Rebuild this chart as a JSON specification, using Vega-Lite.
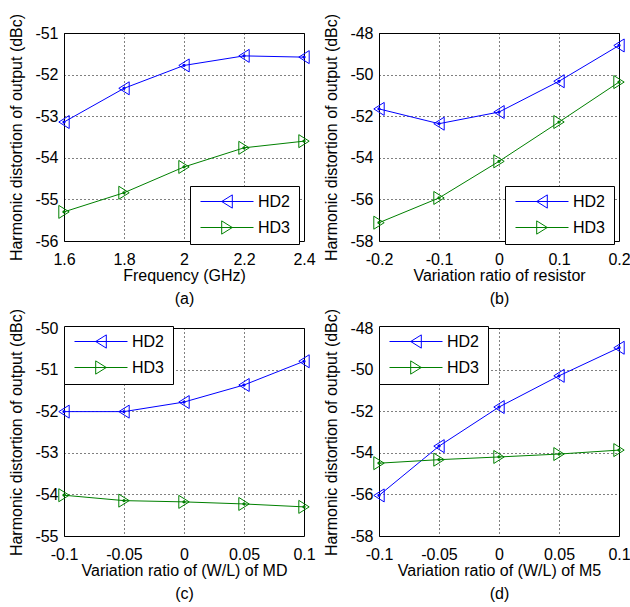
{
  "$schema": "https://vega.github.io/schema/vega-lite/v6.json",
  "background": "white",
  "padding": {"left": 8, "top": 12, "right": 5, "bottom": 5},
  "datasets": {
    "a": [
      {"x": 1.6, "y": -53.14, "series": "HD2"}, {"x": 1.8, "y": -52.33, "series": "HD2"}, {"x": 2.0, "y": -51.78, "series": "HD2"}, {"x": 2.2, "y": -51.55, "series": "HD2"}, {"x": 2.4, "y": -51.58, "series": "HD2"},
      {"x": 1.6, "y": -55.3, "series": "HD3"}, {"x": 1.8, "y": -54.84, "series": "HD3"}, {"x": 2.0, "y": -54.22, "series": "HD3"}, {"x": 2.2, "y": -53.76, "series": "HD3"}, {"x": 2.4, "y": -53.6, "series": "HD3"}
    ],
    "b": [
      {"x": -0.2, "y": -51.65, "series": "HD2"}, {"x": -0.1, "y": -52.36, "series": "HD2"}, {"x": 0, "y": -51.8, "series": "HD2"}, {"x": 0.1, "y": -50.32, "series": "HD2"}, {"x": 0.2, "y": -48.6, "series": "HD2"},
      {"x": -0.2, "y": -57.12, "series": "HD3"}, {"x": -0.1, "y": -55.93, "series": "HD3"}, {"x": 0, "y": -54.17, "series": "HD3"}, {"x": 0.1, "y": -52.28, "series": "HD3"}, {"x": 0.2, "y": -50.36, "series": "HD3"}
    ],
    "c": [
      {"x": -0.1, "y": -52.01, "series": "HD2"}, {"x": -0.05, "y": -52.01, "series": "HD2"}, {"x": 0, "y": -51.78, "series": "HD2"}, {"x": 0.05, "y": -51.37, "series": "HD2"}, {"x": 0.1, "y": -50.8, "series": "HD2"},
      {"x": -0.1, "y": -54.02, "series": "HD3"}, {"x": -0.05, "y": -54.15, "series": "HD3"}, {"x": 0, "y": -54.18, "series": "HD3"}, {"x": 0.05, "y": -54.23, "series": "HD3"}, {"x": 0.1, "y": -54.3, "series": "HD3"}
    ],
    "d": [
      {"x": -0.1, "y": -56.05, "series": "HD2"}, {"x": -0.05, "y": -53.68, "series": "HD2"}, {"x": 0, "y": -51.8, "series": "HD2"}, {"x": 0.05, "y": -50.3, "series": "HD2"}, {"x": 0.1, "y": -48.95, "series": "HD2"},
      {"x": -0.1, "y": -54.5, "series": "HD3"}, {"x": -0.05, "y": -54.33, "series": "HD3"}, {"x": 0, "y": -54.2, "series": "HD3"}, {"x": 0.05, "y": -54.06, "series": "HD3"}, {"x": 0.1, "y": -53.87, "series": "HD3"}
    ]
  },
  "columns": 2,
  "spacing": {"row": 87, "column": 75},
  "bounds": "flush",
  "resolve": {
    "scale": {"color": "independent", "x": "independent", "y": "independent"},
    "legend": {"color": "independent"}
  },
  "concat": [
    {
      "width": 240, "height": 208,
      "data": {"name": "a"},
      "encoding": {
        "x": {"field": "x", "type": "quantitative", "scale": {"domain": [1.6, 2.4], "nice": false, "zero": false}, "axis": {"values": [1.6, 1.8, 2, 2.2, 2.4], "labelExpr": "'' + datum.value", "title": ["Frequency (GHz)", "(a)"]}},
        "y": {"field": "y", "type": "quantitative", "scale": {"domain": [-56, -51], "nice": false, "zero": false}, "axis": {"values": [-56, -55, -54, -53, -52, -51], "labelExpr": "'' + datum.value", "title": "Harmonic distortion of output (dBc)"}},
        "color": {"field": "series", "type": "nominal", "scale": {"domain": ["HD2", "HD3"], "range": ["#0000ff", "#008000"]},
          "legend": {"title": null, "orient": "none", "legendX": 126, "legendY": 153,
            "encode": {"symbols": {"update": {"shape": {"signal": "datum.value === 'HD2' ? 'M-1,0H1M-0.2,0L0.2,-0.25L0.2,0.25Z' : 'M-1,0H1M0.2,0L-0.2,-0.25L-0.2,0.25Z'"}, "stroke": {"signal": "datum.value === 'HD2' ? '#0000ff' : '#008000'"}, "fill": {"value": "transparent"}, "strokeWidth": {"value": 1}, "size": {"value": 2809}, "opacity": {"value": 1}}}}}}
      },
      "layer": [
        {"mark": {"type": "line", "strokeWidth": 1}},
        {"transform": [{"filter": "datum.series === 'HD2'"}], "mark": {"type": "point", "shape": "M-0.8,0L0.8,-1L0.8,1Z", "filled": false, "strokeWidth": 1, "size": 169, "opacity": 1}},
        {"transform": [{"filter": "datum.series === 'HD3'"}], "mark": {"type": "point", "shape": "M0.8,0L-0.8,-1L-0.8,1Z", "filled": false, "strokeWidth": 1, "size": 169, "opacity": 1}},
        {"mark": {"type": "point", "shape": "circle", "filled": false, "strokeWidth": 1.5, "size": 3, "opacity": 1}}
      ]
    },
    {
      "width": 240, "height": 208,
      "data": {"name": "b"},
      "encoding": {
        "x": {"field": "x", "type": "quantitative", "scale": {"domain": [-0.2, 0.2], "nice": false, "zero": false}, "axis": {"values": [-0.2, -0.1, 0, 0.1, 0.2], "labelExpr": "'' + datum.value", "title": ["Variation ratio of resistor", "(b)"]}},
        "y": {"field": "y", "type": "quantitative", "scale": {"domain": [-58, -48], "nice": false, "zero": false}, "axis": {"values": [-58, -56, -54, -52, -50, -48], "labelExpr": "'' + datum.value", "title": "Harmonic distortion of output (dBc)"}},
        "color": {"field": "series", "type": "nominal", "scale": {"domain": ["HD2", "HD3"], "range": ["#0000ff", "#008000"]},
          "legend": {"title": null, "orient": "none", "legendX": 126, "legendY": 153,
            "encode": {"symbols": {"update": {"shape": {"signal": "datum.value === 'HD2' ? 'M-1,0H1M-0.2,0L0.2,-0.25L0.2,0.25Z' : 'M-1,0H1M0.2,0L-0.2,-0.25L-0.2,0.25Z'"}, "stroke": {"signal": "datum.value === 'HD2' ? '#0000ff' : '#008000'"}, "fill": {"value": "transparent"}, "strokeWidth": {"value": 1}, "size": {"value": 2809}, "opacity": {"value": 1}}}}}}
      },
      "layer": [
        {"mark": {"type": "line", "strokeWidth": 1}},
        {"transform": [{"filter": "datum.series === 'HD2'"}], "mark": {"type": "point", "shape": "M-0.8,0L0.8,-1L0.8,1Z", "filled": false, "strokeWidth": 1, "size": 169, "opacity": 1}},
        {"transform": [{"filter": "datum.series === 'HD3'"}], "mark": {"type": "point", "shape": "M0.8,0L-0.8,-1L-0.8,1Z", "filled": false, "strokeWidth": 1, "size": 169, "opacity": 1}},
        {"mark": {"type": "point", "shape": "circle", "filled": false, "strokeWidth": 1.5, "size": 3, "opacity": 1}}
      ]
    },
    {
      "width": 240, "height": 208,
      "data": {"name": "c"},
      "encoding": {
        "x": {"field": "x", "type": "quantitative", "scale": {"domain": [-0.1, 0.1], "nice": false, "zero": false}, "axis": {"values": [-0.1, -0.05, 0, 0.05, 0.1], "labelExpr": "'' + datum.value", "title": ["Variation ratio of (W/L) of MD", "(c)"]}},
        "y": {"field": "y", "type": "quantitative", "scale": {"domain": [-55, -50], "nice": false, "zero": false}, "axis": {"values": [-55, -54, -53, -52, -51, -50], "labelExpr": "'' + datum.value", "title": "Harmonic distortion of output (dBc)"}},
        "color": {"field": "series", "type": "nominal", "scale": {"domain": ["HD2", "HD3"], "range": ["#0000ff", "#008000"]},
          "legend": {"title": null, "orient": "none", "legendX": 0, "legendY": -2,
            "encode": {"symbols": {"update": {"shape": {"signal": "datum.value === 'HD2' ? 'M-1,0H1M-0.2,0L0.2,-0.25L0.2,0.25Z' : 'M-1,0H1M0.2,0L-0.2,-0.25L-0.2,0.25Z'"}, "stroke": {"signal": "datum.value === 'HD2' ? '#0000ff' : '#008000'"}, "fill": {"value": "transparent"}, "strokeWidth": {"value": 1}, "size": {"value": 2809}, "opacity": {"value": 1}}}}}}
      },
      "layer": [
        {"mark": {"type": "line", "strokeWidth": 1}},
        {"transform": [{"filter": "datum.series === 'HD2'"}], "mark": {"type": "point", "shape": "M-0.8,0L0.8,-1L0.8,1Z", "filled": false, "strokeWidth": 1, "size": 169, "opacity": 1}},
        {"transform": [{"filter": "datum.series === 'HD3'"}], "mark": {"type": "point", "shape": "M0.8,0L-0.8,-1L-0.8,1Z", "filled": false, "strokeWidth": 1, "size": 169, "opacity": 1}},
        {"mark": {"type": "point", "shape": "circle", "filled": false, "strokeWidth": 1.5, "size": 3, "opacity": 1}}
      ]
    },
    {
      "width": 240, "height": 208,
      "data": {"name": "d"},
      "encoding": {
        "x": {"field": "x", "type": "quantitative", "scale": {"domain": [-0.1, 0.1], "nice": false, "zero": false}, "axis": {"values": [-0.1, -0.05, 0, 0.05, 0.1], "labelExpr": "'' + datum.value", "title": ["Variation ratio of (W/L) of M5", "(d)"]}},
        "y": {"field": "y", "type": "quantitative", "scale": {"domain": [-58, -48], "nice": false, "zero": false}, "axis": {"values": [-58, -56, -54, -52, -50, -48], "labelExpr": "'' + datum.value", "title": "Harmonic distortion of output (dBc)"}},
        "color": {"field": "series", "type": "nominal", "scale": {"domain": ["HD2", "HD3"], "range": ["#0000ff", "#008000"]},
          "legend": {"title": null, "orient": "none", "legendX": 0, "legendY": -2,
            "encode": {"symbols": {"update": {"shape": {"signal": "datum.value === 'HD2' ? 'M-1,0H1M-0.2,0L0.2,-0.25L0.2,0.25Z' : 'M-1,0H1M0.2,0L-0.2,-0.25L-0.2,0.25Z'"}, "stroke": {"signal": "datum.value === 'HD2' ? '#0000ff' : '#008000'"}, "fill": {"value": "transparent"}, "strokeWidth": {"value": 1}, "size": {"value": 2809}, "opacity": {"value": 1}}}}}}
      },
      "layer": [
        {"mark": {"type": "line", "strokeWidth": 1}},
        {"transform": [{"filter": "datum.series === 'HD2'"}], "mark": {"type": "point", "shape": "M-0.8,0L0.8,-1L0.8,1Z", "filled": false, "strokeWidth": 1, "size": 169, "opacity": 1}},
        {"transform": [{"filter": "datum.series === 'HD3'"}], "mark": {"type": "point", "shape": "M0.8,0L-0.8,-1L-0.8,1Z", "filled": false, "strokeWidth": 1, "size": 169, "opacity": 1}},
        {"mark": {"type": "point", "shape": "circle", "filled": false, "strokeWidth": 1.5, "size": 3, "opacity": 1}}
      ]
    }
  ],
  "config": {
    "font": "Liberation Sans",
    "view": {"stroke": "#000", "strokeWidth": 1},
    "axis": {"grid": true, "gridColor": "#000", "gridDash": [1, 3], "gridOpacity": 1, "gridWidth": 1, "domain": false, "ticks": false,
      "labelFont": "Liberation Sans", "labelFontSize": 16, "labelColor": "#000", "labelFlush": false, "labelOverlap": false,
      "titleFont": "Liberation Sans", "titleFontSize": 16, "titleFontWeight": "normal", "titleColor": "#000"},
    "axisX": {"labelPadding": 10, "titlePadding": 0, "titleLineHeight": 23},
    "axisY": {"labelPadding": 6, "titlePadding": 10},
    "legend": {"strokeColor": "#000", "fillColor": "#fff", "padding": 8, "clipHeight": 15, "rowPadding": 9, "symbolOffset": 2, "labelOffset": 4,
      "labelFont": "Liberation Sans", "labelFontSize": 16, "labelColor": "#000", "symbolSize": 2809, "symbolStrokeWidth": 1, "symbolFillColor": "transparent"}
  }
}
